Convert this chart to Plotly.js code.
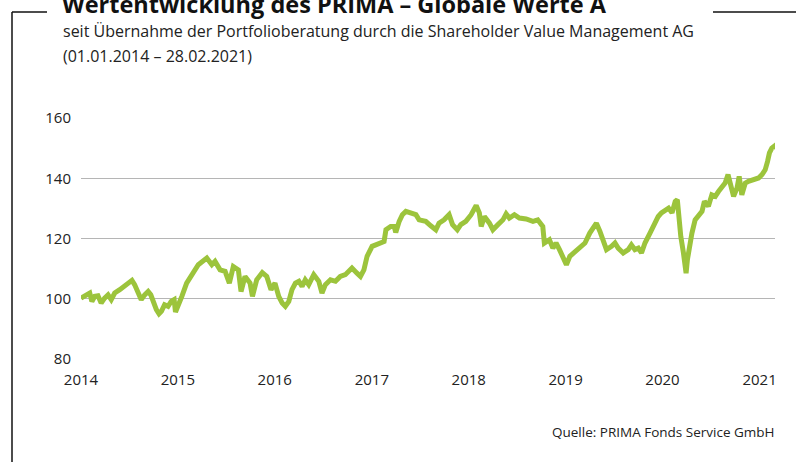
<!DOCTYPE html>
<html>
<head>
<meta charset="utf-8">
<script src="https://cdn.plot.ly/plotly-3.0.1.min.js"></script>
<style>
  html, body { margin: 0; padding: 0; background: #ffffff; }
  #chart { width: 800px; height: 462px; }
</style>
</head>
<body>
<div id="chart"></div>
<script>
// ---- Data ----
var dates = [
  "2014-01-01","2014-01-21","2014-02-03","2014-02-11","2014-02-22","2014-03-06","2014-03-18","2014-03-31",
  "2014-04-13","2014-04-25","2014-05-08","2014-05-27","2014-06-15","2014-07-04","2014-07-12","2014-07-22",
  "2014-08-04","2014-08-16","2014-08-29","2014-09-11","2014-09-21","2014-09-29","2014-10-12","2014-10-22",
  "2014-10-31","2014-11-12","2014-11-25","2014-12-07","2014-12-18","2014-12-23","2015-01-02","2015-01-16",
  "2015-02-03","2015-02-22","2015-03-19","2015-04-20","2015-05-09","2015-05-21","2015-06-09","2015-06-28",
  "2015-07-14","2015-07-29","2015-08-17","2015-08-27","2015-09-11","2015-09-30","2015-10-09","2015-10-25",
  "2015-11-15","2015-12-02","2015-12-18","2016-01-02","2016-01-16","2016-01-29","2016-02-10","2016-02-23",
  "2016-03-06","2016-03-19","2016-04-01","2016-04-13","2016-04-25","2016-05-08","2016-05-27","2016-06-15",
  "2016-06-27","2016-07-10","2016-07-29","2016-08-17","2016-09-04","2016-09-23","2016-10-18","2016-11-06",
  "2016-11-19","2016-12-02","2016-12-14","2017-01-02","2017-01-28","2017-02-16","2017-02-23","2017-03-13",
  "2017-03-26","2017-04-01","2017-04-14","2017-04-26","2017-05-09","2017-05-28","2017-06-16","2017-06-28",
  "2017-07-23","2017-08-11","2017-08-30","2017-09-11","2017-09-30","2017-10-19","2017-11-01","2017-11-19",
  "2017-12-02","2017-12-21","2018-01-10","2018-01-29","2018-02-10","2018-02-17","2018-03-01","2018-03-20",
  "2018-04-02","2018-04-21","2018-05-10","2018-05-22","2018-06-03","2018-06-22","2018-07-11","2018-08-05",
  "2018-08-31","2018-09-18","2018-10-07","2018-10-13","2018-11-01","2018-11-14","2018-11-26","2018-12-09",
  "2018-12-22","2019-01-04","2019-01-17","2019-02-05","2019-02-24","2019-03-15","2019-04-02","2019-04-15",
  "2019-04-27","2019-05-10","2019-05-23","2019-06-04","2019-06-23","2019-07-06","2019-07-18","2019-08-06",
  "2019-08-25","2019-09-06","2019-09-19","2019-10-02","2019-10-14","2019-10-27","2019-11-15","2019-12-04",
  "2019-12-16","2019-12-28","2020-01-11","2020-01-24","2020-02-06","2020-02-18","2020-02-26","2020-03-01",
  "2020-03-10","2020-03-20","2020-03-30","2020-04-04","2020-04-12","2020-04-21","2020-05-03","2020-05-16",
  "2020-05-29","2020-06-07","2020-06-22","2020-07-05","2020-07-18","2020-07-30","2020-08-12","2020-08-24",
  "2020-09-04","2020-09-12","2020-09-25","2020-10-08","2020-10-16","2020-10-26","2020-11-08","2020-11-20",
  "2020-12-09","2020-12-28","2021-01-10","2021-01-22","2021-01-31","2021-02-07","2021-02-16","2021-02-25",
  "2021-02-28"
];
var values = [
  100.2,101.3,101.9,99.1,100.8,101.0,98.6,100.2,
  101.3,99.7,101.9,103.0,104.3,105.4,106.1,104.7,
  102.4,99.7,101.3,102.4,101.3,99.1,96.4,95.0,
  95.8,98.0,97.5,99.1,99.7,95.6,97.5,100.8,
  105.2,108.0,111.3,113.5,111.3,112.4,109.6,109.1,
  105.2,110.7,109.6,102.4,107.4,105.2,100.8,106.3,
  108.7,107.4,103.0,105.2,100.8,98.6,97.5,99.1,
  103.0,105.2,105.8,104.1,106.3,104.7,108.0,105.8,
  101.9,104.7,106.3,105.8,107.4,108.0,110.2,108.5,
  107.4,109.6,114.1,117.4,118.5,119.0,122.9,124.0,
  124.0,122.0,125.7,127.9,129.0,128.5,127.9,126.2,
  125.7,124.2,122.9,125.1,126.2,127.9,124.6,122.9,
  124.6,125.7,127.9,131.0,128.5,124.0,127.3,125.1,
  122.9,124.6,126.2,128.2,126.8,127.9,126.8,126.5,
  125.7,126.2,124.0,118.5,119.6,116.8,118.5,116.3,
  114.1,111.3,114.1,115.7,116.8,118.5,121.8,123.5,
  125.1,122.4,119.0,116.3,117.4,118.5,116.8,115.2,
  116.3,117.9,116.3,116.8,115.2,118.5,121.8,125.7,
  127.3,128.5,129.6,130.1,128.5,132.3,132.9,127.3,
  120.7,115.2,108.5,113.0,117.4,121.8,126.2,127.9,
  129.0,132.3,130.7,134.5,134.0,135.6,137.3,138.4,
  141.2,137.8,134.0,136.8,140.6,134.5,138.4,139.0,
  139.5,140.1,141.2,142.8,145.6,148.4,150.0,150.6,
  149.6
];
var yTicks = [80, 100, 120, 140, 160];
var titleText = "Wertentwicklung des PRIMA – Globale Werte A";
var subtitle1 = "seit Übernahme der Portfolioberatung durch die Shareholder Value Management AG";
var subtitle2 = "(01.01.2014 – 28.02.2021)";
var sourceText = "Quelle: PRIMA Fonds Service GmbH";

// ---- Geometry helpers (pixel -> paper coords) ----
var W = 800, H = 462, L = 81, R = 25, T = 118, B = 103;
var pw = W - L - R, ph = H - T - B;
function px(x) { return (x - L) / pw; }
function py(y) { return (H - B - y) / ph; }

var FONT = "Open Sans, Noto Sans, sans-serif";

var trace = {
  x: dates,
  y: values,
  type: "scatter",
  mode: "lines",
  line: { color: "#9cc43c", width: 5 },
  hoverinfo: "skip"
};

var layout = {
  width: W,
  height: H,
  margin: { l: L, r: R, t: T, b: B, pad: 0 },
  paper_bgcolor: "#ffffff",
  plot_bgcolor: "#ffffff",
  showlegend: false,
  font: { family: FONT, color: "#222222", size: 15 },
  title: {
    text: "<b>" + titleText + "</b>",
    font: { family: FONT, size: 23.5, color: "#111111" },
    x: 62 / W, xanchor: "left", xref: "container",
    y: 1 - 5 / H, yanchor: "middle", yref: "container"
  },
  xaxis: {
    type: "date",
    range: ["2014-01-01", "2021-02-28"],
    tick0: "2014-01-01",
    dtick: "M12",
    tickformat: "%Y",
    showgrid: false,
    zeroline: false,
    showline: false,
    ticks: "outside",
    ticklen: 7,
    tickcolor: "rgba(0,0,0,0)",
    tickfont: { family: FONT, size: 15, color: "#222222" },
    fixedrange: true
  },
  yaxis: {
    range: [80, 160],
    tickvals: yTicks,
    ticktext: yTicks.map(String),
    showgrid: true,
    gridcolor: "#b5b5b5",
    gridwidth: 1,
    zeroline: false,
    showline: false,
    ticks: "outside",
    ticklen: 6,
    tickcolor: "rgba(0,0,0,0)",
    tickfont: { family: FONT, size: 15, color: "#222222" },
    fixedrange: true
  },
  annotations: [
    { text: subtitle1, xref: "paper", yref: "paper", x: px(61), y: py(31.5),
      xanchor: "left", yanchor: "middle", showarrow: false,
      font: { family: FONT, size: 16, color: "#222222" } },
    { text: subtitle2, xref: "paper", yref: "paper", x: px(61), y: py(55.5),
      xanchor: "left", yanchor: "middle", showarrow: false,
      font: { family: FONT, size: 16, color: "#222222" } },
    { text: sourceText, xref: "paper", yref: "paper", x: px(777), y: py(432),
      xanchor: "right", yanchor: "middle", showarrow: false,
      font: { family: FONT, size: 13.5, color: "#222222" } }
  ],
  shapes: [
    { type: "line", xref: "paper", yref: "paper", x0: px(12), x1: px(12), y0: py(12), y1: py(470),
      line: { color: "#111111", width: 1.5 } },
    { type: "line", xref: "paper", yref: "paper", x0: px(12), x1: px(47), y0: py(12), y1: py(12),
      line: { color: "#111111", width: 1.5 } },
    { type: "line", xref: "paper", yref: "paper", x0: px(713), x1: px(796), y0: py(12), y1: py(12),
      line: { color: "#111111", width: 1.5 } }
  ]
};

Plotly.newPlot("chart", [trace], layout, { displayModeBar: false, staticPlot: true });
</script>
</body>
</html>
